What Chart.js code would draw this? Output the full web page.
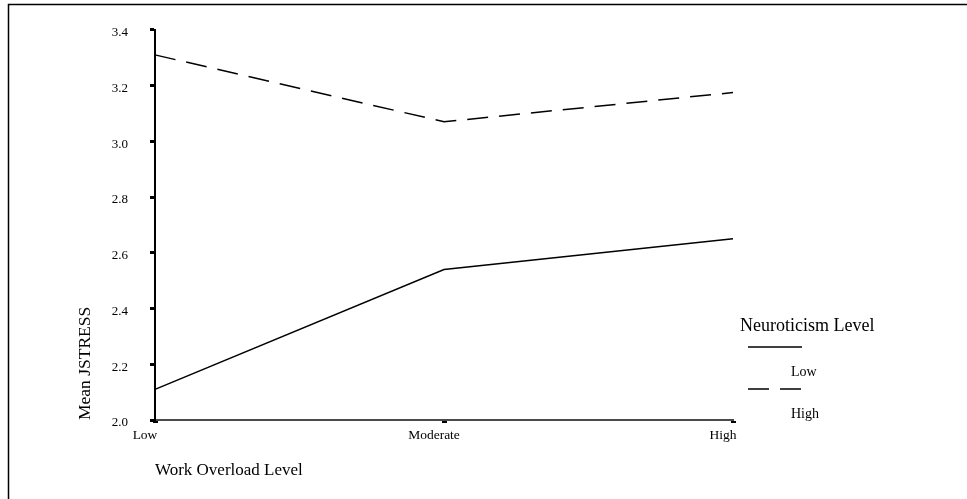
<!DOCTYPE html>
<html>
<head>
<meta charset="utf-8">
<title>Mean JSTRESS by Work Overload Level</title>
<script src="https://cdn.jsdelivr.net/npm/chart.js@4/dist/chart.umd.min.js"></script>
<style>
    html, body { margin: 0; padding: 0; background: #fff; }
    #wrap { position: relative; width: 967px; height: 499px; }
</style>
</head>
<body>
<div id="wrap"><canvas id="chart" width="967" height="499"></canvas></div>
<script>
// Chart data
const categories = ['Low', 'Moderate', 'High'];
const seriesNames = ['Low', 'High'];
const lowNeuroticism = [2.11, 2.54, 2.65];
const highNeuroticism = [3.31, 3.07, 3.175];
const yTicks = [2.0, 2.2, 2.4, 2.6, 2.8, 3.0, 3.2, 3.4];

const serif = '"Liberation Serif", "Times New Roman", serif';

// Outer frame (left and top edges only)
const framePlugin = {
    id: 'frame',
    beforeDraw(chart) {
        const ctx = chart.ctx;
        ctx.save();
        ctx.strokeStyle = '#000';
        ctx.lineWidth = 1.5;
        ctx.beginPath();
        ctx.moveTo(8.5, chart.height);
        ctx.lineTo(8.5, 4.5);
        ctx.lineTo(chart.width, 4.5);
        ctx.stroke();
        ctx.restore();
    }
};

// Legend with the line sample above each label
const legendPlugin = {
    id: 'sampleLegend',
    afterDraw(chart) {
        const ctx = chart.ctx;
        ctx.save();
        ctx.fillStyle = '#000';
        ctx.textBaseline = 'middle';
        ctx.textAlign = 'left';
        ctx.font = '18px ' + serif;
        ctx.fillText('Neuroticism Level', 740, 326);

        chart.data.datasets.forEach((ds, i) => {
            const y = 347 + i * 42;
            ctx.strokeStyle = ds.borderColor;
            ctx.lineWidth = ds.borderWidth;
            ctx.setLineDash(ds.borderDash || []);
            ctx.beginPath();
            ctx.moveTo(748, y);
            ctx.lineTo(802, y);
            ctx.stroke();
            ctx.setLineDash([]);
            ctx.font = '14px ' + serif;
            ctx.fillText(ds.label, 791, y + 25);
        });
        ctx.restore();
    }
};

new Chart(document.getElementById('chart'), {
    type: 'line',
    data: {
        labels: categories,
        datasets: [
            {
                label: seriesNames[0],
                data: lowNeuroticism,
                borderColor: '#000',
                borderWidth: 1.5,
                borderDash: [],
                pointRadius: 0,
                tension: 0
            },
            {
                label: seriesNames[1],
                data: highNeuroticism,
                borderColor: '#000',
                borderWidth: 1.5,
                borderDash: [21, 11],
                pointRadius: 0,
                tension: 0
            }
        ]
    },
    options: {
        responsive: false,
        animation: false,
        layout: { padding: { left: 0, top: 29, right: 234, bottom: 0 } },
        plugins: {
            legend: { display: false },
            tooltip: { enabled: false }
        },
        scales: {
            x: {
                offset: false,
                afterFit(scale) { scale.height = 79; },
                border: { color: '#4a4a4a', width: 2 },
                grid: { drawOnChartArea: false, tickLength: 3, tickWidth: 5, tickColor: '#000' },
                ticks: {
                    color: '#000',
                    font: { family: serif, size: 13.5 },
                    padding: 4,
                    maxRotation: 0,
                    labelOffset: -10
                },
                title: {
                    display: true,
                    text: 'Work Overload Level',
                    align: 'start',
                    color: '#000',
                    font: { family: serif, size: 17 },
                    padding: { top: 0, bottom: 18 }
                }
            },
            y: {
                min: 2.0,
                max: 3.4,
                afterFit(scale) { scale.width = 155; },
                afterBuildTicks(scale) { scale.ticks = yTicks.map(v => ({ value: v })); },
                border: { color: '#000', width: 2 },
                grid: { drawOnChartArea: false, tickLength: 5, tickWidth: 3, tickColor: '#000' },
                ticks: {
                    color: '#000',
                    font: { family: serif, size: 13 },
                    padding: 22,
                    labelOffset: 3,
                    callback: v => Number(v).toFixed(1)
                },
                title: {
                    display: true,
                    text: 'Mean JSTRESS',
                    align: 'start',
                    color: '#000',
                    font: { family: serif, size: 17.5 },
                    padding: { top: 75, bottom: 0 }
                }
            }
        }
    },
    plugins: [framePlugin, legendPlugin]
});
</script>
</body>
</html>
